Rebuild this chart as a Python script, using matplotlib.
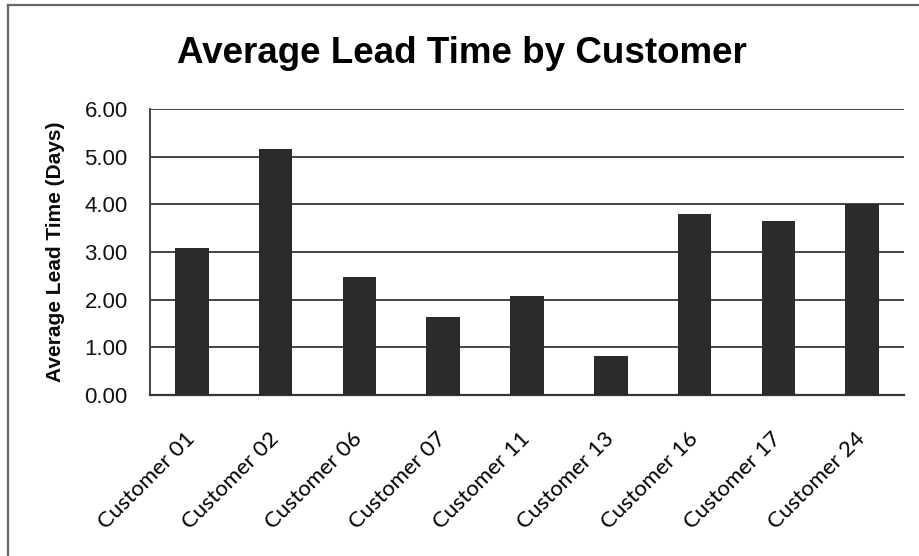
import matplotlib
matplotlib.use("Agg")
import matplotlib.pyplot as plt
from matplotlib.lines import Line2D

customers = ["Customer 01", "Customer 02", "Customer 06", "Customer 07", "Customer 11",
             "Customer 13", "Customer 16", "Customer 17", "Customer 24"]
lead_days = [3.09, 5.15, 2.47, 1.64, 2.08, 0.82, 3.79, 3.64, 4.01]
y_ticks = [0, 1, 2, 3, 4, 5, 6]
y_tick_labels = ["0.00", "1.00", "2.00", "3.00", "4.00", "5.00", "6.00"]

fig = plt.figure(figsize=(9.2, 5.56), dpi=100)
fig.patch.set_facecolor("white")
ax = fig.add_axes([0.163, 0.2896, 0.8196, 0.5144])

x = list(range(len(customers)))
ax.bar(x, lead_days, width=0.4, color="#2b2b2b", zorder=3)

ax.set_xlim(-0.5, len(customers) - 0.5)
ax.set_ylim(0, 6)
ax.set_yticks(y_ticks)
ax.set_yticklabels(y_tick_labels, fontfamily="Liberation Sans", fontsize=16, color="#111111")
ax.yaxis.grid(True, color="#454545", linewidth=1.4, zorder=1)
ax.set_axisbelow(True)

ax.set_xticks(x)
ax.set_xticklabels(customers, rotation=45, ha="right", va="center",
                   rotation_mode="anchor", fontfamily="Lato", fontsize=16, color="#000000")
ax.tick_params(axis="x", length=0, pad=29)
ax.tick_params(axis="y", length=0, pad=16)

for side in ["top", "right"]:
    ax.spines[side].set_visible(False)
ax.spines["left"].set_color("#454545")
ax.spines["left"].set_linewidth(1.4)
ax.spines["bottom"].set_color("#353535")
ax.spines["bottom"].set_linewidth(1.6)

fig.text(0.502, 0.8867, "Average Lead Time by Customer", ha="center", va="baseline",
         fontfamily="Liberation Sans", fontweight="bold", fontsize=26.5, color="#000000")
fig.text(0.060, 0.5468, "Average Lead Time (Days)", rotation=90, ha="center", va="center",
         fontfamily="Liberation Sans", fontweight="bold", fontsize=15, color="#0a0a0a")

# chart-area frame (left and top edges)
fig.add_artist(Line2D([0.0087, 0.0087], [0.0, 0.991], transform=fig.transFigure,
                      color="#666666", linewidth=1.6))
fig.add_artist(Line2D([0.0087, 1.0], [0.991, 0.991], transform=fig.transFigure,
                      color="#666666", linewidth=1.6))

fig.savefig("out.png", dpi=100)
